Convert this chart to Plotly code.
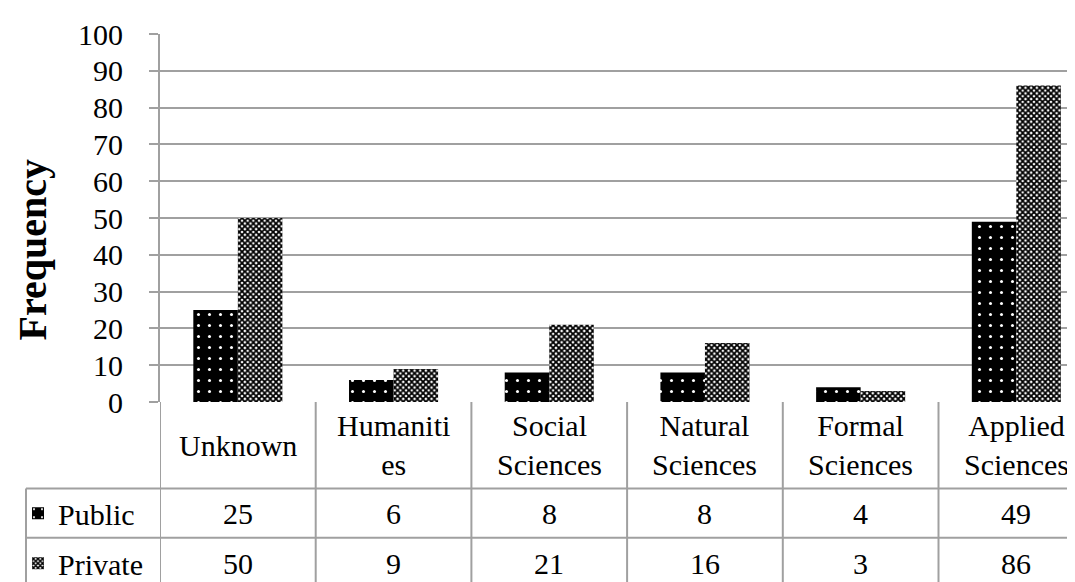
import plotly.graph_objects as go

# data
categories = ["Unknown", "Humanities", "Social Sciences", "Natural Sciences",
              "Formal Sciences", "Applied Sciences"]
cat_labels = ["Unknown", "Humaniti<br>es", "Social<br>Sciences", "Natural<br>Sciences",
              "Formal<br>Sciences", "Applied<br>Sciences"]
public = [25, 6, 8, 8, 4, 49]
private = [50, 9, 21, 16, 3, 86]
y_ticks = [0, 10, 20, 30, 40, 50, 60, 70, 80, 90, 100]

W, H = 1075, 582
LEFT, TOP, BOTTOM = 152, 26, 400          # plot area in pixels
PLOT_W, PLOT_H = W - LEFT, BOTTOM - TOP
CAT_W = 155.7                             # px per category (last one runs off the page)
TABLE_LEFT = 18
ROWS = [400, 488, 538, 590]               # row borders of the data table (px)

FONT = '"Liberation Serif", "Times New Roman", Times, serif'
GRID = "#a0a0a0"
TXT = 30


def px_y(p):
    return (BOTTOM - p) / PLOT_H


def px_x(p):
    return (p - LEFT) / PLOT_W


fig = go.Figure()
fig.add_trace(go.Bar(
    x=categories, y=public, name="Public", legend="legend",
    marker=dict(color="black", line=dict(width=0),
                pattern=dict(shape=".", bgcolor="black", fgcolor="white",
                             size=11, solidity=0.06, fillmode="replace")),
))
fig.add_trace(go.Bar(
    x=categories, y=private, name="Private", legend="legend2",
    marker=dict(color="white", line=dict(width=0),
                pattern=dict(shape="x", bgcolor="white", fgcolor="black",
                             size=4, solidity=0.7, fillmode="replace")),
))

# table: category labels, values
for i, lab in enumerate(cat_labels):
    fig.add_annotation(x=i, xref="x", y=px_y((ROWS[0] + ROWS[1]) / 2), yref="paper",
                       text=lab, showarrow=False, yanchor="middle",
                       font=dict(family=FONT, size=TXT, color="black"))
for r, series in enumerate([public, private]):
    yc = px_y((ROWS[r + 1] + ROWS[r + 2]) / 2)
    for i, v in enumerate(series):
        fig.add_annotation(x=i, xref="x", y=yc, yref="paper", text=str(v),
                           showarrow=False, yanchor="middle",
                           font=dict(family=FONT, size=TXT, color="black"))

# table lines
line = dict(color=GRID, width=2)
for i in range(len(categories) + 1):
    fig.add_shape(type="line", xref="x", yref="paper", x0=i - 0.5, x1=i - 0.5,
                  y0=0, y1=px_y(ROWS[-1]), line=line)
for r in ROWS[1:3]:
    fig.add_shape(type="line", xref="paper", yref="paper", x0=px_x(TABLE_LEFT), x1=1,
                  y0=px_y(r), y1=px_y(r), line=line)
fig.add_shape(type="line", xref="paper", yref="paper", x0=px_x(TABLE_LEFT), x1=px_x(TABLE_LEFT),
              y0=px_y(ROWS[1]), y1=px_y(ROWS[-1]), line=line)

# y title
fig.add_annotation(x=px_x(24), xref="paper", y=px_y(246), yref="paper", text="<b>Frequency</b>",
                   textangle=-90, showarrow=False, xanchor="center", yanchor="middle",
                   font=dict(family=FONT, size=40, color="black"))

legend_common = dict(xref="paper", yref="paper", xanchor="left", yanchor="middle",
                     bgcolor="rgba(0,0,0,0)", borderwidth=0, itemwidth=30,
                     font=dict(family=FONT, size=TXT, color="black"))

fig.update_layout(
    width=W, height=H,
    margin=dict(l=LEFT, r=0, t=TOP, b=H - BOTTOM),
    plot_bgcolor="white", paper_bgcolor="white",
    barmode="group", bargap=0.428, bargroupgap=0,
    font=dict(family=FONT, color="black"),
    showlegend=True,
    legend=dict(x=px_x(10), y=px_y((ROWS[1] + ROWS[2]) / 2), **legend_common),
    legend2=dict(x=px_x(10), y=px_y((ROWS[2] + ROWS[3]) / 2), **legend_common),
    xaxis=dict(range=[-0.5, -0.5 + PLOT_W / CAT_W], showticklabels=False, showgrid=False,
               showline=False, zeroline=False, fixedrange=True),
    yaxis=dict(range=[0, 100], tickvals=y_ticks, showgrid=True, gridcolor=GRID, gridwidth=2,
               zeroline=False, showline=True, linecolor=GRID, linewidth=2,
               ticks="outside", ticklen=9, tickcolor=GRID, tickwidth=2,
               ticklabelstandoff=20,
               tickfont=dict(family=FONT, size=30, color="black")),
)

fig.write_html("out.html")
